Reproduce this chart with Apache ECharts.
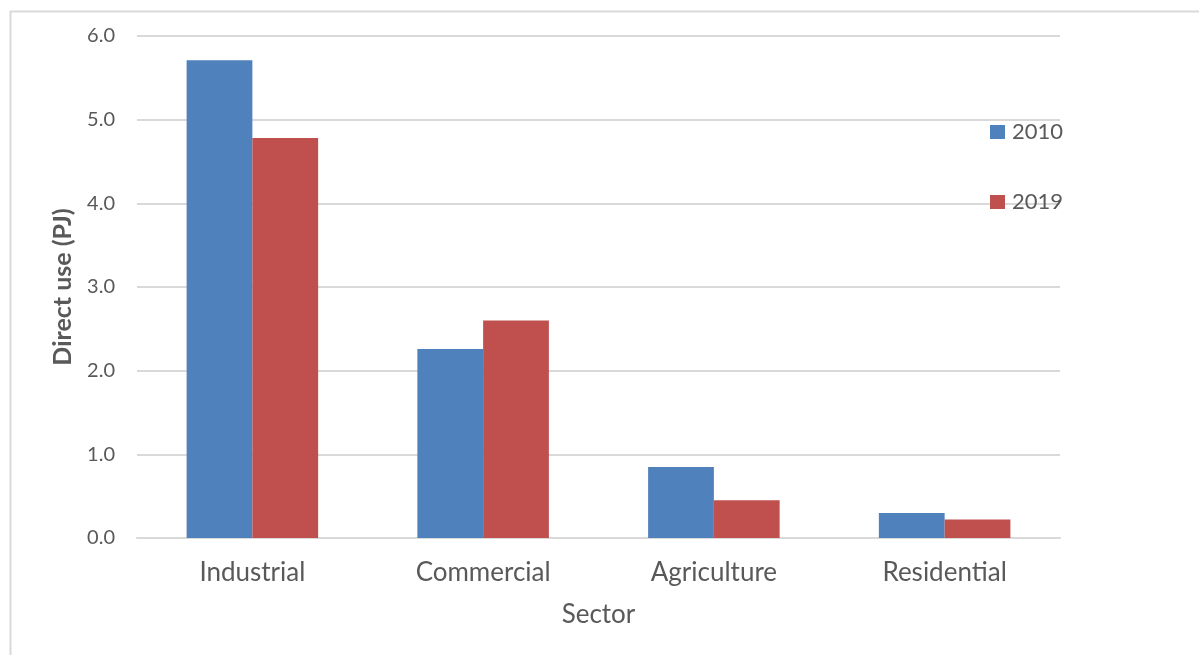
<!DOCTYPE html>
<html>
<head>
<meta charset="utf-8">
<script src="https://cdn.jsdelivr.net/npm/echarts@6/dist/echarts.min.js"></script>
<style>
  html, body { margin: 0; padding: 0; background: #ffffff; }
  #chart { width: 1199px; height: 655px; }
</style>
</head>
<body>
<div id="chart"></div>
<script>
// Direct use by sector, 2010 vs 2019 (PJ)
const sectors = ['Industrial', 'Commercial', 'Agriculture', 'Residential'];
const use2010 = [5.71, 2.26, 0.85, 0.30];
const use2019 = [4.78, 2.60, 0.45, 0.22];
const yTicks = { min: 0, max: 6, interval: 1 };

const FONT = 'Lato';
const TEXT = '#595959';
const GRID = '#d9d9d9';

const chart = echarts.init(document.getElementById('chart'), null, { renderer: 'canvas' });

chart.setOption({
  backgroundColor: '#ffffff',
  animation: false,
  textStyle: { fontFamily: FONT, color: TEXT },
  graphic: [{
    type: 'rect',
    left: 8, top: 9,
    shape: { width: 1400, height: 800 },
    style: { fill: 'none', stroke: GRID, lineWidth: 2 },
    silent: true
  }],
  grid: { left: 137, right: 139, top: 36, bottom: 117, containLabel: false },
  legend: {
    orient: 'vertical',
    left: 985,
    top: 116,
    itemWidth: 15,
    itemHeight: 14,
    itemGap: 48,
    icon: 'rect',
    textStyle: { fontFamily: FONT, fontSize: 22, color: TEXT, padding: [0, 0, 0, 2] },
    data: ['2010', '2019']
  },
  xAxis: {
    type: 'category',
    data: sectors,
    name: 'Sector',
    nameLocation: 'middle',
    nameGap: 64,
    nameTextStyle: { fontFamily: FONT, fontSize: 26, color: TEXT },
    axisLine: { show: true, lineStyle: { color: GRID, width: 2 } },
    axisTick: { show: false },
    axisLabel: { fontFamily: FONT, fontSize: 26, color: TEXT, margin: 22 }
  },
  yAxis: {
    type: 'value',
    min: yTicks.min,
    max: yTicks.max,
    interval: yTicks.interval,
    name: 'Direct use (PJ)',
    nameLocation: 'middle',
    nameGap: 62,
    nameTextStyle: { fontFamily: FONT, fontSize: 25, fontWeight: 'bold', color: TEXT },
    axisLine: { show: false },
    axisTick: { show: false },
    axisLabel: {
      fontFamily: FONT, fontSize: 20, color: TEXT, margin: 22,
      formatter: v => v.toFixed(1)
    },
    splitLine: { show: true, lineStyle: { color: GRID, width: 2 } }
  },
  series: [
    {
      name: '2010',
      type: 'bar',
      data: use2010,
      barGap: '0%',
      barCategoryGap: '43%',
      itemStyle: { color: '#4F81BD' }
    },
    {
      name: '2019',
      type: 'bar',
      data: use2019,
      barGap: '0%',
      barCategoryGap: '43%',
      itemStyle: { color: '#C0504D' }
    }
  ]
});
</script>
</body>
</html>
